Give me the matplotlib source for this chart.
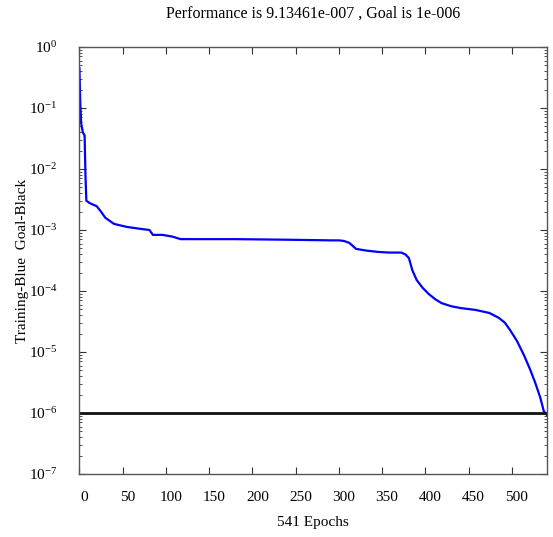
import numpy as np
import matplotlib
matplotlib.use('Agg')
import matplotlib.pyplot as plt
import matplotlib.transforms as mtransforms
from matplotlib.ticker import LogLocator, NullFormatter

### data (epoch, log10 of performance)
epochs = [0, 1, 2, 4, 6, 7, 8, 12, 20, 25, 30, 40, 55, 70, 81, 85, 96, 108, 117,
          180, 243, 291, 300, 306, 312, 320, 333, 346, 358, 372, 377, 381, 385,
          390, 397, 404, 412, 419, 430, 441, 458, 474, 485, 492, 498, 506, 514,
          521, 527, 533, 537, 541]
log_perf = [-0.35, -0.9, -1.25, -1.4, -1.45, -2.1, -2.52, -2.56, -2.61, -2.7,
            -2.8, -2.9, -2.95, -2.98, -3.0, -3.08, -3.08, -3.11, -3.15,
            -3.15, -3.16, -3.17, -3.17, -3.18, -3.21, -3.31, -3.34, -3.36,
            -3.37, -3.37, -3.4, -3.46, -3.66, -3.82, -3.95, -4.05, -4.14, -4.2,
            -4.25, -4.28, -4.31, -4.36, -4.44, -4.52, -4.64, -4.82, -5.05,
            -5.28, -5.5, -5.75, -5.97, -6.04]
goal = 1e-6
n_epochs = 541
perf_final = '9.13461e-007'
goal_str = '1e-006'

xticks = [0, 50, 100, 150, 200, 250, 300, 350, 400, 450, 500]

plt.rcParams['font.family'] = 'Liberation Serif'
plt.rcParams['mathtext.fontset'] = 'custom'
plt.rcParams['mathtext.rm'] = 'Liberation Serif'
plt.rcParams['mathtext.it'] = 'Liberation Serif'
plt.rcParams['axes.unicode_minus'] = False

fig = plt.figure(figsize=(5.53, 5.37), dpi=100)
ax = fig.add_axes([0.1436, 0.1173, 0.846, 0.7952])

perf = 10.0 ** np.array(log_perf)
ax.semilogy(epochs, perf, color='#0000ff', lw=1.6)
ax.axhline(goal, color='#111111', lw=2.0)

ax.set_xlim(0, n_epochs)
ax.set_ylim(1e-7, 1e0)
ax.set_xticks(xticks)
ax.set_xticklabels([str(t) for t in xticks], fontsize=11)
ax.yaxis.set_minor_locator(LogLocator(base=10, subs=np.arange(2, 10), numticks=20))
ax.yaxis.set_minor_formatter(NullFormatter())
ax.set_yticks([10.0 ** k for k in range(-7, 1)])
ax.set_yticklabels([r'$10^{%d}$' % k for k in range(-7, 1)], fontsize=11)

ax.tick_params(which='both', direction='in', top=True, right=True, color='#333333')
ax.tick_params(which='major', length=5)
ax.tick_params(which='minor', length=2.5)
ax.tick_params(axis='x', pad=12)
ax.tick_params(axis='y', pad=16)

# MATLAB puts x labels a bit right of the ticks
offset = mtransforms.ScaledTranslation(5 / 100, 0, fig.dpi_scale_trans)
for lab in ax.get_xticklabels():
    lab.set_transform(lab.get_transform() + offset)

for sp in ax.spines.values():
    sp.set_color('#555555')
    sp.set_linewidth(1.0)

ax.set_title('Performance is %s , Goal is %s' % (perf_final, goal_str), fontsize=11.5, pad=21)
ax.set_xlabel('%d Epochs' % n_epochs, fontsize=11, labelpad=9)
ax.set_ylabel('Training-Blue  Goal-Black', fontsize=11, labelpad=0)

fig.savefig('out.png', dpi=100)
